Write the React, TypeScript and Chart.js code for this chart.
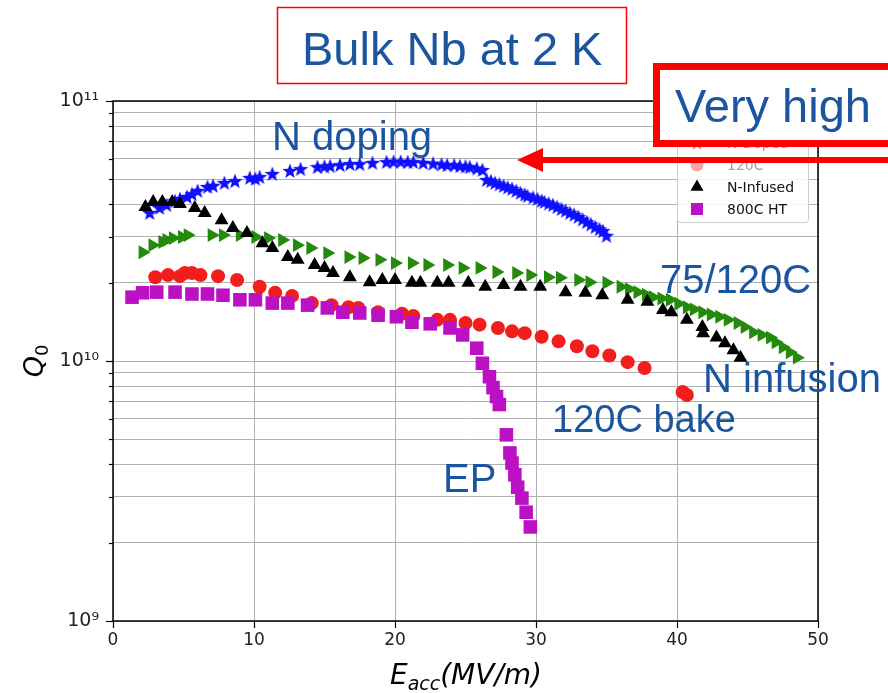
import React, { useEffect, useRef } from 'react';
import { Chart, registerables } from 'chart.js';

Chart.register(...registerables);

// ---- Data (E in MV/m, Q0 in units of 1e10) ----
const Q_UNIT = 1e10;

const nDopedE = [2.6, 3.3, 3.8, 4.4, 4.75, 5.25, 5.6, 6.0, 6.7, 7.1, 7.9, 8.65, 9.7, 10.1, 10.4, 11.3, 12.55, 13.3, 14.5, 15.0, 15.4, 16.1, 16.8, 17.5, 18.4, 19.4, 19.9, 20.4, 20.9, 21.3, 22.0, 22.7, 23.3, 23.7, 24.2, 24.6, 25.0, 25.3, 25.8, 26.2,
  26.5, 26.8, 27.1, 27.4, 27.7, 28.0, 28.3, 28.6, 28.9, 29.2, 29.4, 29.8, 30.1, 30.4, 30.6, 30.9, 31.2, 31.5, 31.8, 32.1, 32.4, 32.7, 33.0, 33.3, 33.6, 33.9, 34.2, 34.5, 34.75, 35.0];
const nDopedQ = [3.71, 3.88, 3.98, 4.12, 4.2, 4.28, 4.38, 4.51, 4.67, 4.72, 4.84, 4.92, 5.06, 5.02, 5.1, 5.24, 5.38, 5.47, 5.57, 5.6, 5.62, 5.67, 5.72, 5.72, 5.78, 5.82, 5.84, 5.84, 5.82, 5.82, 5.78, 5.74, 5.7, 5.67, 5.66, 5.62, 5.6, 5.57, 5.5, 5.43,
  4.97, 4.92, 4.84, 4.78, 4.71, 4.65, 4.59, 4.51, 4.43, 4.36, 4.31, 4.25, 4.2, 4.13, 4.09, 4.03, 3.98, 3.91, 3.84, 3.78, 3.71, 3.65, 3.58, 3.5, 3.42, 3.35, 3.27, 3.21, 3.16, 3.03];

const bake75E = [2.1, 2.8, 3.5, 3.8, 4.25, 4.9, 5.3, 7.0, 7.8, 9.0, 10.1, 11.0, 12.0, 13.05, 14.0, 15.2, 16.7, 17.7, 18.9, 20.0, 21.2, 22.3, 23.7, 24.8, 26.0, 27.2, 28.6, 29.6, 30.85, 31.7, 33.0, 33.8, 35.0, 36.0, 36.6, 37.2, 37.8, 38.3, 38.9, 39.5, 40.1, 40.7, 41.2, 41.8, 42.4, 43.0, 43.6, 44.3, 44.8, 45.4, 46.0, 46.6, 47.0, 47.5, 48.0, 48.5];
const bake75Q = [2.62, 2.79, 2.87, 2.92, 2.97, 3.0, 3.05, 3.05, 3.05, 3.05, 3.0, 2.97, 2.92, 2.79, 2.72, 2.6, 2.51, 2.49, 2.45, 2.38, 2.38, 2.34, 2.34, 2.28, 2.28, 2.2, 2.18, 2.14, 2.1, 2.09, 2.05, 2.01, 2.0, 1.93, 1.89, 1.84, 1.8, 1.76, 1.74, 1.72, 1.66, 1.61, 1.58, 1.54, 1.51, 1.48, 1.44, 1.4, 1.35, 1.29, 1.26, 1.23, 1.18, 1.13, 1.08, 1.03];

const bake120E = [3.0, 3.9, 4.75, 5.1, 5.6, 6.2, 7.45, 8.8, 10.4, 11.5, 12.7, 14.1, 15.5, 16.7, 17.4, 18.8, 20.5, 21.3, 23.0, 23.9, 25.0, 26.0, 27.3, 28.3, 29.2, 30.4, 31.6, 32.9, 34.0, 35.2, 36.5, 37.7, 40.4, 40.7];
const bake120Q = [2.1, 2.14, 2.12, 2.18, 2.18, 2.14, 2.12, 2.05, 1.93, 1.83, 1.78, 1.67, 1.64, 1.61, 1.6, 1.54, 1.52, 1.49, 1.44, 1.44, 1.4, 1.38, 1.34, 1.3, 1.28, 1.24, 1.19, 1.14, 1.09, 1.05, 0.99, 0.94, 0.76, 0.74];

const nInfusedE = [2.3, 2.85, 3.5, 4.2, 4.75, 5.8, 6.5, 7.7, 8.5, 9.5, 10.6, 11.3, 12.4, 13.1, 14.3, 15.0, 15.6, 16.8, 18.2, 19.1, 20.0, 21.2, 21.8, 23.0, 23.8, 25.2, 26.4, 27.7, 28.9, 30.3, 32.1, 33.5, 34.7, 36.5, 37.9, 39.0, 39.6, 40.7, 41.8, 41.85, 42.8, 43.4, 44.0, 44.5];
const nInfusedQ = [3.91, 4.09, 4.09, 4.09, 4.02, 3.88, 3.71, 3.48, 3.25, 3.11, 2.84, 2.72, 2.51, 2.45, 2.34, 2.28, 2.18, 2.1, 2.01, 2.05, 2.05, 2.0, 2.0, 2.0, 2.0, 2.0, 1.93, 1.96, 1.93, 1.93, 1.84, 1.83, 1.79, 1.72, 1.69, 1.57, 1.54, 1.44, 1.35, 1.28, 1.23, 1.17, 1.1, 1.03];

const ht800E = [1.35, 2.1, 3.1, 4.4, 5.6, 6.7, 7.8, 9.0, 10.1, 11.3, 12.4, 13.8, 15.2, 16.3, 17.5, 18.8, 20.1, 21.2, 22.5, 23.9, 24.8, 25.8, 26.2, 26.7, 26.95, 27.2, 27.4, 27.9, 28.15, 28.3, 28.5, 28.7, 29.0, 29.3, 29.6];
const ht800Q = [1.76, 1.83, 1.84, 1.84, 1.81, 1.81, 1.79, 1.72, 1.72, 1.67, 1.67, 1.64, 1.6, 1.54, 1.53, 1.5, 1.48, 1.41, 1.39, 1.34, 1.26, 1.12, 0.98, 0.87, 0.79, 0.73, 0.68, 0.52, 0.443, 0.405, 0.365, 0.327, 0.297, 0.262, 0.23];

const seriesNames = ['75/120C', 'N-Doped', '120C', 'N-Infused', '800C HT'];
const xTickValues = [0, 10, 20, 30, 40, 50];
const yDecades = [9, 10, 11];

const BLUE = '#1010ff';
const GREEN = '#238a0c';
const RED = '#f21d1d';
const BLACK = '#000000';
const PURPLE = '#bb10c4';
const ANNOT = '#1b55a0';

function makeStar(size: number, color: string) {
  const c = document.createElement('canvas');
  c.width = size; c.height = size;
  const ctx = c.getContext('2d')!;
  ctx.fillStyle = color;
  ctx.beginPath();
  const cx = size / 2, cy = size / 2 + 0.5, R = size / 2, r = R * 0.42;
  for (let i = 0; i < 10; i++) {
    const a = -Math.PI / 2 + (i * Math.PI) / 5;
    const rad = i % 2 ? r : R;
    ctx.lineTo(cx + rad * Math.cos(a), cy + rad * Math.sin(a));
  }
  ctx.closePath();
  ctx.fill();
  return c;
}

const toPoints = (xs: number[], ys: number[]) => xs.map((x, i) => ({ x, y: ys[i] * Q_UNIT }));

const SUP = '⁰¹²³⁴⁵⁶⁷⁸⁹';
const sup = (n: number) => String(n).split('').map((d) => SUP[+d]).join('');
const isDecade = (v: number) => { const e = Math.log10(v); return Math.abs(e - Math.round(e)) < 1e-9; };

function drawMarker(ctx: CanvasRenderingContext2D, kind: string, x: number, y: number, color: string, star?: HTMLCanvasElement) {
  ctx.fillStyle = color;
  ctx.beginPath();
  if (kind === 'circle') { ctx.arc(x, y, 6.5, 0, Math.PI * 2); ctx.fill(); }
  else if (kind === 'tri') { const r = 7.5; ctx.moveTo(x, y - r); ctx.lineTo(x + r * 0.866, y + r / 2); ctx.lineTo(x - r * 0.866, y + r / 2); ctx.closePath(); ctx.fill(); }
  else if (kind === 'triR') { const r = 7.5; ctx.moveTo(x + r, y); ctx.lineTo(x - r / 2, y + r * 0.866); ctx.lineTo(x - r / 2, y - r * 0.866); ctx.closePath(); ctx.fill(); }
  else if (kind === 'rect') { ctx.fillRect(x - 6, y - 6, 12, 12); }
  else if (kind === 'star' && star) { ctx.drawImage(star, x - star.width / 2, y - star.height / 2); }
}

export default function App() {
  const ref = useRef<HTMLCanvasElement>(null);

  useEffect(() => {
    const star = makeStar(16, BLUE);
    const yTickValues: number[] = [];
    for (let d = yDecades[0]; d < yDecades[yDecades.length - 1]; d++) {
      for (let m = 1; m <= 9; m++) yTickValues.push(m * Math.pow(10, d));
    }
    yTickValues.push(Math.pow(10, yDecades[yDecades.length - 1]));

    const overlay = {
      id: 'overlay',
      beforeDatasetsDraw(chart: any) {
        const { ctx, chartArea, scales } = chart;
        ctx.save();
        ctx.strokeStyle = '#000';
        ctx.lineWidth = 1.2;
        scales.y.ticks.forEach((t: any) => {
          const py = Math.round(scales.y.getPixelForValue(t.value)) + 0.5;
          const len = isDecade(t.value) ? 7 : 4;
          ctx.beginPath(); ctx.moveTo(chartArea.left - len, py); ctx.lineTo(chartArea.left, py); ctx.stroke();
        });
        scales.x.ticks.forEach((t: any) => {
          const px = Math.round(scales.x.getPixelForValue(t.value)) + 0.5;
          ctx.beginPath(); ctx.moveTo(px, chartArea.bottom); ctx.lineTo(px, chartArea.bottom + 7); ctx.stroke();
        });
        ctx.restore();
      },
      afterDatasetsDraw(chart: any) {
        const { ctx, chartArea } = chart;
        ctx.save();
        ctx.strokeStyle = '#000';
        ctx.lineWidth = 1.5;
        ctx.strokeRect(chartArea.left, chartArea.top, chartArea.right - chartArea.left, chartArea.bottom - chartArea.top);
        ctx.restore();
      },
      afterDraw(chart: any) {
        const { ctx } = chart;
        ctx.save();

        // Axis titles
        ctx.fillStyle = '#000';
        ctx.textBaseline = 'alphabetic';
        ctx.textAlign = 'left';
        const big = 'italic 28px "DejaVu Sans"';
        const small = 'italic 19px "DejaVu Sans"';
        ctx.font = big; const wE = ctx.measureText('E').width; const wP = ctx.measureText('(MV/m)').width;
        ctx.font = small; const wS = ctx.measureText('acc').width;
        let x0 = 466 - (wE + wS + wP) / 2;
        ctx.font = big; ctx.fillText('E', x0, 684);
        ctx.font = small; ctx.fillText('acc', x0 + wE, 690);
        ctx.font = big; ctx.fillText('(MV/m)', x0 + wE + wS, 684);

        ctx.save();
        ctx.translate(43, 361);
        ctx.rotate(-Math.PI / 2);
        ctx.font = 'italic 27px "DejaVu Sans"';
        const wQ = ctx.measureText('Q').width;
        ctx.font = '18px "DejaVu Sans"';
        const w0 = ctx.measureText('0').width;
        const qx = -(wQ + w0) / 2;
        ctx.font = 'italic 27px "DejaVu Sans"';
        ctx.fillText('Q', qx, 0);
        ctx.font = '18px "DejaVu Sans"';
        ctx.fillText('0', qx + wQ, 5);
        ctx.restore();

        // Legend
        const lx = 677, ly = 107, lw = 131, lh = 115;
        ctx.fillStyle = 'rgba(255,255,255,0.85)';
        ctx.strokeStyle = '#cccccc';
        ctx.lineWidth = 1;
        ctx.beginPath();
        (ctx as any).roundRect ? (ctx as any).roundRect(lx + 0.5, ly + 0.5, lw, lh, 3) : ctx.rect(lx + 0.5, ly + 0.5, lw, lh);
        ctx.fill(); ctx.stroke();
        const kinds = ['triR', 'star', 'circle', 'tri', 'rect'];
        const cols = [GREEN, BLUE, RED, BLACK, PURPLE];
        ctx.font = '14px "DejaVu Sans"';
        ctx.textBaseline = 'middle';
        seriesNames.forEach((name, i) => {
          const cy = 121 + i * 22;
          ctx.globalAlpha = i === 1 || i === 2 ? 0.4 : 1;
          drawMarker(ctx, kinds[i], 697, cy, cols[i], star);
          ctx.fillStyle = '#111';
          ctx.fillText(name, 727, cy + 1);
        });
        ctx.globalAlpha = 1;

        // "Very high" box
        ctx.fillStyle = '#fff';
        ctx.fillRect(656, 66, 250, 78);
        ctx.strokeStyle = '#ff0000';
        ctx.lineWidth = 7;
        ctx.strokeRect(656.5, 66.5, 250, 77);
        ctx.fillStyle = ANNOT;
        ctx.textBaseline = 'alphabetic';
        ctx.font = '47px "Liberation Sans", Arial, sans-serif';
        ctx.fillText('Very high', 675, 122);

        // Arrow
        ctx.fillStyle = '#ff0000';
        ctx.fillRect(540, 157, 360, 6);
        ctx.beginPath();
        ctx.moveTo(517, 160); ctx.lineTo(543, 148); ctx.lineTo(543, 172); ctx.closePath();
        ctx.fill();

        // "Bulk Nb at 2 K" box
        ctx.fillStyle = '#fff';
        ctx.fillRect(278, 8, 348, 75);
        ctx.strokeStyle = '#ff0000';
        ctx.lineWidth = 1.5;
        ctx.strokeRect(277.5, 7.5, 349, 76);
        ctx.fillStyle = ANNOT;
        ctx.font = '47px "Liberation Sans", Arial, sans-serif';
        ctx.fillText('Bulk Nb at 2 K', 302, 65);

        // Curve labels
        ctx.font = '40px "Liberation Sans", Arial, sans-serif';
        ctx.fillText('N doping', 272, 150);
        ctx.fillText('75/120C', 660, 293);
        ctx.fillText('N infusion', 703, 392);
        ctx.fillText('EP', 443, 492);
        ctx.font = '38px "Liberation Sans", Arial, sans-serif';
        ctx.fillText('120C bake', 552, 432);

        ctx.restore();
      },
    };

    const mk = (label: string, data: any[], extra: any, order: number) => ({
      label, data, order, showLine: false, ...extra,
    });

    const chart = new Chart(ref.current!, {
      type: 'scatter',
      data: {
        datasets: [
          mk(seriesNames[0], toPoints(bake75E, bake75Q), { pointStyle: 'triangle', pointRotation: 90, pointRadius: 8, backgroundColor: GREEN, borderColor: GREEN, borderWidth: 0 }, 5),
          mk(seriesNames[1], toPoints(nDopedE, nDopedQ), { pointStyle: star, pointRadius: 8, backgroundColor: BLUE, borderColor: BLUE }, 4),
          mk(seriesNames[2], toPoints(bake120E, bake120Q), { pointStyle: 'circle', pointRadius: 7, backgroundColor: RED, borderColor: RED, borderWidth: 0 }, 3),
          mk(seriesNames[3], toPoints(nInfusedE, nInfusedQ), { pointStyle: 'triangle', pointRadius: 8, backgroundColor: BLACK, borderColor: BLACK, borderWidth: 0 }, 2),
          mk(seriesNames[4], toPoints(ht800E, ht800Q), { pointStyle: 'rect', pointRadius: 9.6, backgroundColor: PURPLE, borderColor: PURPLE, borderWidth: 0 }, 1),
        ],
      },
      options: {
        responsive: false,
        animation: false,
        events: [],
        layout: { padding: { top: 101, right: 70, left: 0, bottom: 0 } },
        plugins: { legend: { display: false }, tooltip: { enabled: false }, title: { display: false } },
        scales: {
          x: {
            type: 'linear',
            min: 0,
            max: 50,
            afterBuildTicks: (scale: any) => { scale.ticks = xTickValues.map((v) => ({ value: v })); },
            afterFit: (scale: any) => { scale.height = 72; },
            ticks: { color: '#222', font: { family: 'DejaVu Sans', size: 17 }, padding: 9, autoSkip: false, maxRotation: 0 },
            grid: { color: '#b0b0b0', lineWidth: 1, drawTicks: false },
            border: { display: false },
          },
          y: {
            type: 'logarithmic',
            min: Math.pow(10, yDecades[0]),
            max: Math.pow(10, yDecades[yDecades.length - 1]),
            afterBuildTicks: (scale: any) => { scale.ticks = yTickValues.map((v) => ({ value: v })); },
            afterFit: (scale: any) => { scale.width = 113; },
            ticks: {
              color: '#222',
              font: { family: 'DejaVu Sans', size: 19 },
              padding: 14,
              autoSkip: false,
              callback: (v: any) => (isDecade(Number(v)) ? '10' + sup(Math.round(Math.log10(Number(v)))) : ''),
            },
            grid: { color: '#b0b0b0', lineWidth: 1, drawTicks: false },
            border: { display: false },
          },
        },
      } as any,
      plugins: [overlay],
    });
    return () => chart.destroy();
  }, []);

  return (
    <div style={{ position: 'fixed', left: 0, top: 0, width: 888, height: 693, background: '#fff' }}>
      <canvas ref={ref} width={888} height={693} style={{ display: 'block', width: 888, height: 693 }} />
    </div>
  );
}
